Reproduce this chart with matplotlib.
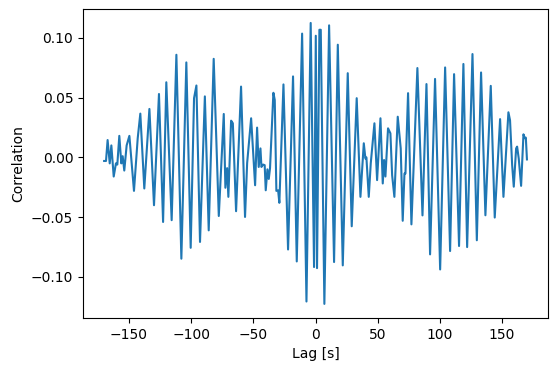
import numpy as np
import matplotlib
matplotlib.use("Agg")
import matplotlib.pyplot as plt

# lag [s] and correlation at the turning points of the curve
lags = [-170, -168.5, -167.2, -165.5, -164.2, -162.3, -160.5, -159.4, -157.8, -156.2,
        -155.1, -153.8, -151.9, -149.7, -146.0, -143.0, -140.9, -137.7, -133.6, -129.9,
        -125.9, -122.6, -120.0, -115.7, -111.9, -107.9, -103.9, -100.4, -97.7, -95.8,
        -92.9, -89.0, -85.9, -81.9, -77.8, -73.8, -72.5, -71.1, -70.1, -67.9,
        -66.5, -63.9, -59.9, -56.7, -55.0, -51.8, -48.6, -47.0, -45.7, -44.3,
        -43.5, -42.2, -40.9, -40.05, -38.7, -37.6, -36.6, -33.9, -32.8, -31.5,
        -30.1, -29.1, -25.8, -22.1, -18.1, -15.1, -10.8, -7.3, -3.9, -1.2,
        0.2, 1.2, 3.1, 4.2, 7.1, 10.9, 14.9, 17.9, 21.9, 25.9,
        29.1, 33.1, 36.1, 38.8, 40.1, 40.9, 42.8, 44.4, 47.35, 49.5,
        52.2, 54.05, 55.1, 56.2, 58.3, 60.2, 61.6, 63.4, 66.1, 68.5,
        70.1, 71.5, 72.3, 74.4, 77.1, 81.9, 86.0, 89.2, 92.1, 96.1,
        100.2, 104.2, 108.2, 111.4, 115.4, 118.9, 121.9, 126.2, 129.7, 133.1,
        136.6, 140.9, 144.1, 148.4, 151.1, 155.1, 156.4, 158.1, 159.4, 161.3,
        162.1, 163.4, 165.3, 167.2, 168.3, 169.1, 170.0]

corr = [-0.003, -0.003, 0.0145, -0.005, 0.010, -0.016, -0.005, -0.006, 0.018, -0.005,
        0.001, -0.011, 0.010, 0.018, -0.028, 0.016, 0.0366, -0.026, 0.0405, -0.040,
        0.053, -0.054, 0.0628, -0.0525, 0.0858, -0.0847, 0.0794, -0.0756, 0.0495, 0.0601,
        -0.0707, 0.051, -0.061, 0.0824, -0.049, 0.0363, -0.0254, -0.009, -0.033, 0.0307,
        0.0285, -0.045, 0.0592, -0.0498, -0.0047, 0.0327, -0.0233, 0.0249, -0.008, 0.0075,
        -0.008, -0.006, -0.0065, -0.0275, -0.010, -0.018, -0.009, 0.054, 0.048, -0.028,
        -0.0275, -0.038, 0.061, -0.077, 0.0677, -0.087, 0.1035, -0.1205, 0.1124, -0.0917,
        0.1017, -0.0926, 0.1067, 0.1067, -0.1225, 0.1104, -0.0875, 0.0942, -0.0903, 0.0704,
        -0.0576, 0.0495, -0.033, 0.0118, -0.001, 0.0, -0.033, -0.005, 0.0285, -0.019,
        0.0327, -0.0218, -0.0022, -0.016, 0.0243, 0.0201, -0.015, -0.033, 0.034, 0.0075,
        -0.053, -0.0135, -0.0135, 0.0537, -0.056, 0.0747, -0.0485, 0.0613, -0.0811, 0.0656,
        -0.0937, 0.0752, -0.0783, 0.0696, -0.0741, 0.0781, -0.075, 0.0864, -0.0693, 0.071,
        -0.0484, 0.0598, -0.0503, 0.032, -0.033, 0.0377, 0.031, -0.0064, -0.0245, 0.0075,
        0.009, -0.001, -0.0238, 0.0193, 0.016, 0.0165, -0.0017]

fig = plt.figure(figsize=(5.57, 3.71), dpi=100)
ax = fig.add_subplot(111)
fig.subplots_adjust(left=0.149, right=0.984, top=0.976, bottom=0.143)

ax.plot(np.array(lags), np.array(corr))
ax.set_xlabel("Lag [s]")
ax.set_ylabel("Correlation")

fig.savefig("out.png", dpi=100)
